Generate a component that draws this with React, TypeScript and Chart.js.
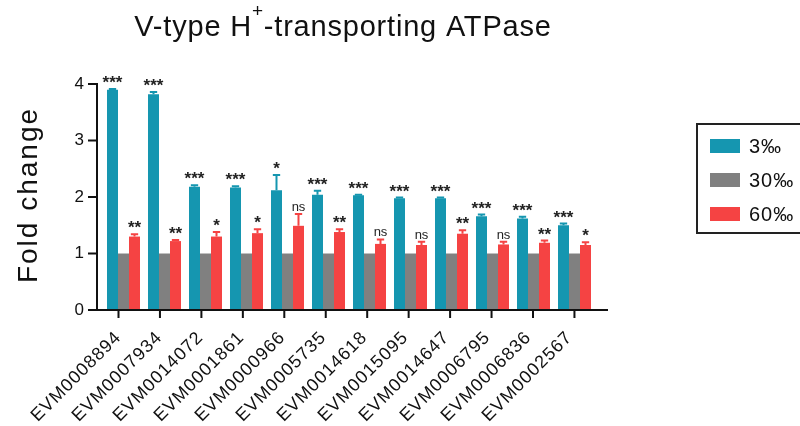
import React, { useEffect, useRef } from "react";
import { Chart, registerables } from "chart.js";
Chart.register(...registerables);

const categories = [
  "EVM0008894", "EVM0007934", "EVM0014072", "EVM0001861", "EVM0000966", "EVM0005735",
  "EVM0014618", "EVM0015095", "EVM0014647", "EVM0006795", "EVM0006836", "EVM0002567",
];
const seriesLabels = ["3‰", "30‰", "60‰"];
const values3 = [3.9, 3.82, 2.18, 2.17, 2.12, 2.04, 2.03, 1.98, 1.98, 1.66, 1.62, 1.5];
const err3 = [0.01, 0.04, 0.03, 0.02, 0.27, 0.07, 0.01, 0.01, 0.01, 0.03, 0.03, 0.03];
const values30 = [1, 1, 1, 1, 1, 1, 1, 1, 1, 1, 1, 1];
const err30 = [0, 0, 0, 0, 0, 0, 0, 0, 0, 0, 0, 0];
const values60 = [1.3, 1.22, 1.3, 1.36, 1.49, 1.38, 1.17, 1.15, 1.35, 1.16, 1.19, 1.15];
const err60 = [0.04, 0.02, 0.08, 0.07, 0.21, 0.05, 0.08, 0.06, 0.06, 0.05, 0.04, 0.05];
const sig3 = ["***", "***", "***", "***", "*", "***", "***", "***", "***", "***", "***", "***"];
const sig30 = ["", "", "", "", "", "", "", "", "", "", "", ""];
const sig60 = ["**", "**", "*", "*", "ns", "**", "ns", "ns", "**", "ns", "**", "*"];
const yTicks = [0, 1, 2, 3, 4];
const titleMain = "V-type H";
const titleSup = "+";
const titleRest = "-transporting ATPase";
const yTitle = "Fold change";

const colors = ["#1596B0", "#808080", "#F54343"];
const FONT = "'Liberation Sans', Arial, sans-serif";

const decor = {
  id: "decor",
  beforeDraw(chart: any) {
    chart.ctx.letterSpacing = "1px";
  },
  afterDatasetsDraw(chart: any) {
    const ctx = chart.ctx;
    const y = chart.scales.y;
    const errs = [err3, err30, err60];
    const sigs = [sig3, sig30, sig60];
    const vals = [values3, values30, values60];
    ctx.save();
    for (let d = 0; d < 3; d++) {
      const meta = chart.getDatasetMeta(d);
      meta.data.forEach((el: any, i: number) => {
        const e = errs[d][i];
        const top = y.getPixelForValue(vals[d][i] + e);
        if (e > 0) {
          ctx.strokeStyle = colors[d];
          ctx.lineWidth = 2;
          ctx.beginPath();
          ctx.moveTo(el.x, el.y);
          ctx.lineTo(el.x, top);
          ctx.moveTo(el.x - el.width / 3, top);
          ctx.lineTo(el.x + el.width / 3, top);
          ctx.stroke();
        }
        const s = sigs[d][i];
        if (s) {
          ctx.fillStyle = "#222";
          ctx.textAlign = "center";
          ctx.textBaseline = "alphabetic";
          ctx.letterSpacing = "0px";
          if (s === "ns") {
            ctx.font = `13px ${FONT}`;
            ctx.fillText(s, el.x, top - 3);
          } else {
            ctx.font = `bold 17px ${FONT}`;
            ctx.fillText(s, el.x, top - 1);
          }
        }
      });
    }
    ctx.restore();
  },
  afterDraw(chart: any) {
    const ctx = chart.ctx;
    const xs = chart.scales.x;
    const ys = chart.scales.y;
    ctx.save();
    ctx.strokeStyle = "#111";
    ctx.lineWidth = 2;
    const axisX = 97;
    const base = ys.getPixelForValue(0);
    ctx.beginPath();
    ctx.moveTo(axisX, ys.getPixelForValue(4) - 1);
    ctx.lineTo(axisX, base + 1);
    ctx.moveTo(axisX - 1, base);
    ctx.lineTo(608, base);
    yTicks.forEach((t) => {
      const py = ys.getPixelForValue(t);
      ctx.moveTo(88, py);
      ctx.lineTo(axisX, py);
    });
    categories.forEach((_, i) => {
      const px = xs.getPixelForValue(i) - 5 + 0.45 * i;
      ctx.moveTo(px, base);
      ctx.lineTo(px, base + 8);
    });
    ctx.stroke();

    // title
    ctx.fillStyle = "#111";
    ctx.textBaseline = "alphabetic";
    ctx.textAlign = "left";
    ctx.letterSpacing = "0.8px";
    ctx.font = `29px ${FONT}`;
    const w1 = ctx.measureText(titleMain).width;
    const w3 = ctx.measureText(titleRest).width;
    ctx.font = `19px ${FONT}`;
    const w2 = ctx.measureText(titleSup).width;
    const total = w1 + w2 + w3;
    const x0 = 343 - total / 2;
    ctx.font = `29px ${FONT}`;
    ctx.fillText(titleMain, x0, 36);
    ctx.font = `19px ${FONT}`;
    ctx.fillText(titleSup, x0 + w1, 17);
    ctx.font = `29px ${FONT}`;
    ctx.fillText(titleRest, x0 + w1 + w2, 36);

    // y title
    ctx.save();
    ctx.translate(37, 195);
    ctx.rotate(-Math.PI / 2);
    ctx.textAlign = "center";
    ctx.letterSpacing = "2px";
    ctx.font = `28px ${FONT}`;
    ctx.fillText(yTitle, 0, 0);
    ctx.restore();

    // legend
    ctx.lineWidth = 2;
    ctx.strokeStyle = "#222";
    ctx.strokeRect(697, 124, 120, 109);
    ctx.letterSpacing = "1px";
    ctx.font = `20px ${FONT}`;
    ctx.textBaseline = "middle";
    chart.data.datasets.forEach((ds: any, i: number) => {
      const yy = 139 + i * 34;
      ctx.fillStyle = ds.backgroundColor;
      ctx.fillRect(710, yy, 30, 14);
      ctx.fillStyle = "#111";
      ctx.fillText(ds.label, 749, yy + 8);
    });
    ctx.restore();
    ctx.letterSpacing = "0px";
  },
};

export default function App() {
  const ref = useRef<HTMLCanvasElement | null>(null);
  useEffect(() => {
    if (!ref.current) return;
    const chart = new Chart(ref.current, {
      type: "bar",
      data: {
        labels: categories,
        datasets: [
          { label: seriesLabels[0], data: values3, backgroundColor: colors[0] },
          { label: seriesLabels[1], data: values30, backgroundColor: colors[1] },
          { label: seriesLabels[2], data: values60, backgroundColor: colors[2] },
        ],
      },
      options: {
        responsive: false,
        animation: false,
        devicePixelRatio: 1,
        layout: { padding: { left: 0, right: 205, top: 84, bottom: 0 } },
        datasets: { bar: { categoryPercentage: 0.805, barPercentage: 1.0, borderWidth: 0 } },
        plugins: { legend: { display: false }, title: { display: false }, tooltip: { enabled: false } },
        scales: {
          x: {
            grid: { display: false, drawTicks: false },
            border: { display: false },
            ticks: {
              autoSkip: false,
              minRotation: 45,
              maxRotation: 45,
              labelOffset: -5,
              padding: 17,
              color: "#111",
              font: { family: FONT, size: 18 },
            },
            afterFit: (s: any) => { s.height = 116; },
          },
          y: {
            min: 0,
            max: 4,
            grid: { display: false, drawTicks: false },
            border: { display: false },
            ticks: {
              stepSize: 1,
              padding: 18,
              color: "#111",
              font: { family: FONT, size: 17 },
            },
            afterFit: (s: any) => { s.width = 103; },
          },
        },
      },
      plugins: [decor],
    });
    return () => chart.destroy();
  }, []);
  return (
    <div style={{ position: "absolute", left: 0, top: 0, width: 800, height: 426, background: "#fff" }}>
      <canvas ref={ref} width={800} height={426} />
    </div>
  );
}
